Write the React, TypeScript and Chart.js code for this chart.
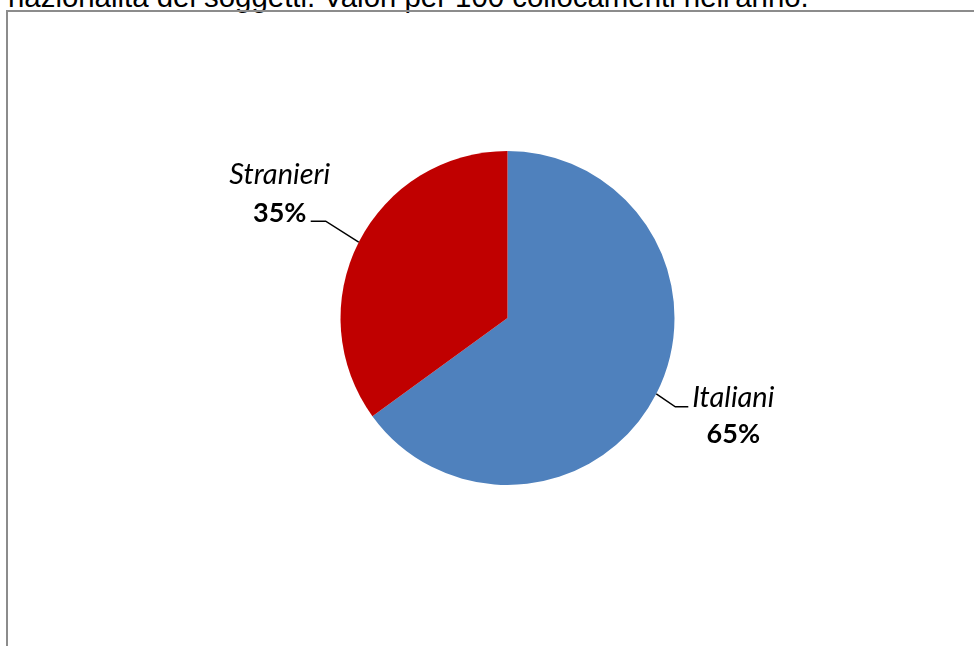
import React, { useEffect, useRef } from "react";
import { Chart, registerables } from "chart.js";

Chart.register(...registerables);

const titleText = "nazionalità dei soggetti. Valori per 100 collocamenti nell'anno.";
const categories = ["Italiani", "Stranieri"];
const values = [65, 35];
const colors = ["#4F81BD", "#C00000"];

// leader geometry offsets relative to the arc edge point; text: [dx, nameBaselineDy, pctBaselineDy]
const leaderLayout = [
  { elbow: [19, 13], end: [32, 13], text: [77, 13, 49] },
  { elbow: [-33, -21], end: [-48, -21], text: [-79, -58, -20] },
];

const labelPlugin = {
  id: "pieLabels",
  afterDraw(chart: any) {
    const ctx = chart.ctx;
    const meta = chart.getDatasetMeta(0);
    const total = values.reduce((a, b) => a + b, 0);
    meta.data.forEach((arc: any, i: number) => {
      const { x, y, startAngle, endAngle, outerRadius } = arc.getProps(
        ["x", "y", "startAngle", "endAngle", "outerRadius"],
        true
      );
      const mid = (startAngle + endAngle) / 2;
      const ex = x + Math.cos(mid) * outerRadius;
      const ey = y + Math.sin(mid) * outerRadius;
      const lay = leaderLayout[i];
      ctx.save();
      ctx.strokeStyle = "#000";
      ctx.lineWidth = 1.5;
      ctx.beginPath();
      ctx.moveTo(ex, ey);
      ctx.lineTo(ex + lay.elbow[0], ey + lay.elbow[1]);
      ctx.lineTo(ex + lay.end[0], ey + lay.end[1]);
      ctx.stroke();
      const tx = ex + lay.text[0];
      ctx.fillStyle = "#000";
      ctx.textAlign = "center";
      ctx.textBaseline = "alphabetic";
      ctx.font = "italic 29px Lato";
      ctx.fillText(categories[i], tx, ey + lay.text[1]);
      ctx.font = "bold 27px Lato";
      const pct = Math.round((values[i] / total) * 100) + "%";
      ctx.fillText(pct, tx, ey + lay.text[2]);
      ctx.restore();
    });
  },
};

export default function App() {
  const ref = useRef<HTMLCanvasElement>(null);
  useEffect(() => {
    if (!ref.current) return;
    const chart = new Chart(ref.current, {
      type: "pie",
      data: {
        labels: categories,
        datasets: [
          {
            data: values,
            backgroundColor: colors,
            borderWidth: 0,
          },
        ],
      },
      options: {
        responsive: false,
        animation: false,
        layout: { padding: { left: 340, right: 299, top: 151, bottom: 161 } },
        plugins: {
          legend: { display: false },
          tooltip: { enabled: false },
        },
      },
      plugins: [labelPlugin],
    });
    return () => chart.destroy();
  }, []);

  return (
    <div style={{ position: "fixed", left: 0, top: 0, width: 974, height: 646, overflow: "hidden", background: "#fff" }}>
      <div
        style={{
          position: "absolute",
          left: 8,
          top: -18,
          fontFamily: "'Liberation Sans', Arial, sans-serif",
          fontSize: 29.4,
          lineHeight: "29px",
          color: "#000",
          whiteSpace: "nowrap",
        }}
      >
        {titleText}
      </div>
      <div
        style={{
          position: "absolute",
          left: 6,
          top: 10,
          width: 1000,
          height: 700,
          border: "2px solid #8c8c8c",
          boxSizing: "border-box",
        }}
      />
      <canvas
        ref={ref}
        width={974}
        height={646}
        style={{ position: "absolute", left: 0, top: 0, width: 974, height: 646 }}
      />
    </div>
  );
}
